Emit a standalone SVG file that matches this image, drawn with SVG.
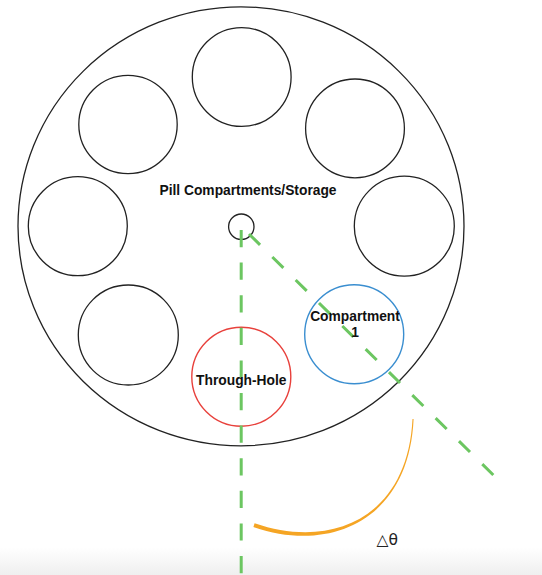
<svg xmlns="http://www.w3.org/2000/svg" width="542" height="575" viewBox="0 0 542 575">
<defs>
<linearGradient id="bottomFade" x1="0" y1="0" x2="0" y2="1">
<stop offset="0" stop-color="#ffffff"/>
<stop offset="1" stop-color="#efefef"/>
</linearGradient>
</defs>
<style>
.slot{fill:none;stroke:#222222;stroke-width:1.3}
.lbl{font-family:"Liberation Sans",Arial,Helvetica,sans-serif;font-weight:bold;font-size:13.8px;fill:#111111;text-anchor:middle}
.guide{fill:none;stroke:#6cc661;stroke-width:3}
</style>
<rect x="0" y="0" width="542" height="575" fill="#ffffff"/>
<rect x="0" y="547" width="542" height="28" fill="url(#bottomFade)"/>

<g id="storage">
<ellipse cx="241" cy="226.3" rx="223" ry="219.5" class="slot"/>
<text x="248" y="195" class="lbl">Pill Compartments/Storage</text>
</g>
<g id="slot-top"><circle cx="241.7" cy="77" r="49.4" class="slot"/></g>
<g id="slot-upper-right"><circle cx="355" cy="128.4" r="49.4" class="slot"/></g>
<g id="slot-right"><circle cx="404.3" cy="226.2" r="50" class="slot"/></g>
<g id="slot-upper-left"><circle cx="128" cy="124.5" r="49.2" class="slot"/></g>
<g id="slot-left"><circle cx="77.8" cy="226.2" r="49.5" class="slot"/></g>
<g id="slot-lower-left"><circle cx="128.3" cy="335" r="50" class="slot"/></g>
<g id="axis"><circle cx="241.3" cy="226.7" r="12.7" class="slot"/></g>

<g id="through-hole"><circle cx="241.3" cy="376.7" r="49.5" fill="none" stroke="#e8413c" stroke-width="1.4"/></g>
<g id="compartment-1"><circle cx="354.2" cy="334.2" r="49.5" fill="none" stroke="#3a8ed0" stroke-width="1.4"/></g>

<g id="connectors">
<line x1="241.2" y1="230" x2="241.2" y2="575" class="guide" stroke-dasharray="17.2 15.4"/>
<line x1="249" y1="234" x2="493.3" y2="475" class="guide" stroke-dasharray="15.5 17.27"/>
<path d="M253.4,527 C329.5,553.5 409,521 413.6,419 L412.5,419 C407.5,519 330.5,549.5 254.6,523.2 Z" fill="#f5a524"/>
</g>

<g id="labels">
<text x="241.3" y="385" class="lbl">Through-Hole</text>
<text x="355" y="321" class="lbl">Compartment</text>
<text x="355" y="337" class="lbl">1</text>
<text x="376.5" y="544.5" font-family="'DejaVu Sans','Liberation Sans',sans-serif" font-size="15.5" fill="#222222">△θ</text>
</g>
</svg>
